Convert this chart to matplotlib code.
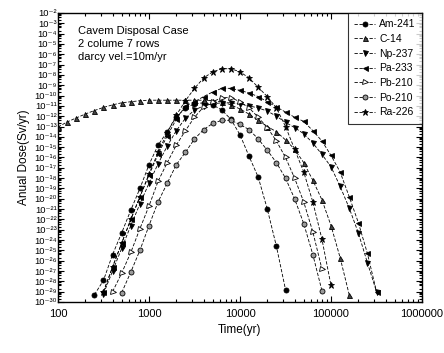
import numpy as np
import matplotlib
matplotlib.use("Agg")
import matplotlib.pyplot as plt
from matplotlib.ticker import LogLocator, FixedLocator, FixedFormatter, NullFormatter

plt.rcParams['font.family'] = ['Liberation Sans', 'DejaVu Sans']

# values, as log10(time in yr) and log10(dose in Sv/yr)
am241_logt = [2.4, 2.5, 2.6, 2.7, 2.8, 2.9, 3.0, 3.1, 3.2, 3.3, 3.4, 3.5, 3.6, 3.7,
              3.8, 3.9, 4.0, 4.1, 4.2, 4.3, 4.4, 4.5]
am241_logd = [-29.3, -27.9, -25.4, -23.3, -21.1, -19.0, -16.7, -14.8, -13.5, -12.1, -11.2,
              -10.8, -10.7, -10.9, -11.4, -12.3, -13.8, -15.9, -17.9, -21.0, -24.6, -28.8]

c14_logt = [2.0, 2.1, 2.2, 2.3, 2.4, 2.5, 2.6, 2.7, 2.8, 2.9, 3.0, 3.1, 3.2, 3.3, 3.4,
            3.5, 3.6, 3.7, 3.8, 3.9, 4.0, 4.1, 4.2, 4.3, 4.4, 4.5, 4.6, 4.7, 4.8, 4.9,
            5.0, 5.1, 5.2]
c14_logd = [-13.05, -12.56, -12.17, -11.79, -11.45, -11.15, -10.9, -10.7, -10.6, -10.5,
            -10.45, -10.45, -10.45, -10.45, -10.45, -10.45, -10.45, -10.5, -10.6, -10.9,
            -11.3, -11.8, -12.4, -13.0, -13.5, -14.3, -15.2, -16.5, -18.2, -20.1,
            -22.6, -25.7, -29.3]

np237_logt = [2.5, 2.6, 2.7, 2.8, 2.9, 3.0, 3.1, 3.2, 3.3, 3.4, 3.5, 3.6, 3.7, 3.8,
              3.9, 4.0, 4.1, 4.2, 4.3, 4.4, 4.5, 4.6, 4.7, 4.8, 4.9, 5.0, 5.1, 5.2,
              5.3, 5.4, 5.5]
np237_logd = [-29.2, -27.0, -24.8, -22.6, -20.5, -18.5, -16.6, -14.9, -13.4, -12.2,
              -11.4, -11.0, -10.8, -10.7, -10.7, -10.8, -11.0, -11.2, -11.5, -12.0,
              -12.6, -13.1, -13.7, -14.6, -15.7, -16.9, -18.8, -20.9, -23.3, -26.2, -29.0]

pa233_logt = [2.5, 2.6, 2.7, 2.8, 2.9, 3.0, 3.1, 3.2, 3.3, 3.4, 3.5, 3.6, 3.7, 3.8,
              3.9, 4.0, 4.1, 4.2, 4.3, 4.4, 4.5, 4.6, 4.7, 4.8, 4.9, 5.0, 5.1, 5.2,
              5.3, 5.4, 5.5]
pa233_logd = [-29.0, -26.6, -24.3, -22.0, -19.8, -17.7, -15.7, -13.9, -12.3, -11.0,
              -10.6, -10.1, -9.65, -9.3, -9.3, -9.5, -9.75, -10.1, -10.6, -11.1,
              -11.6, -12.1, -12.5, -13.4, -14.4, -15.8, -17.4, -19.8, -22.3, -25.3, -29.0]

pb210_logt = [2.6, 2.7, 2.8, 2.9, 3.0, 3.1, 3.2, 3.3, 3.4, 3.5, 3.6, 3.7, 3.8, 3.9,
              4.0, 4.1, 4.2, 4.3, 4.4, 4.5, 4.6, 4.7, 4.8, 4.9]
pb210_logd = [-29.0, -27.2, -25.2, -22.9, -20.7, -18.3, -16.5, -14.8, -13.4, -12.1,
              -11.1, -10.6, -10.2, -10.2, -10.6, -11.2, -12.1, -13.1, -14.4, -16.0,
              -18.0, -20.3, -23.2, -26.8]

po210_logt = [2.7, 2.8, 2.9, 3.0, 3.1, 3.2, 3.3, 3.4, 3.5, 3.6, 3.7, 3.8, 3.9, 4.0,
              4.1, 4.2, 4.3, 4.4, 4.5, 4.6, 4.7, 4.8, 4.9]
po210_logd = [-29.1, -27.1, -25.0, -22.6, -20.3, -18.5, -16.7, -15.5, -14.2, -13.3,
              -12.7, -12.4, -12.4, -12.8, -13.3, -14.2, -15.3, -16.5, -18.0, -20.0,
              -22.4, -25.4, -28.9]

ra226_logt = [2.5, 2.6, 2.7, 2.8, 2.9, 3.0, 3.1, 3.2, 3.3, 3.4, 3.5, 3.6, 3.7, 3.8,
              3.9, 4.0, 4.1, 4.2, 4.3, 4.4, 4.5, 4.6, 4.7, 4.8, 4.9, 5.0]
ra226_logd = [-29.0, -26.6, -24.3, -22.0, -19.8, -17.6, -15.5, -13.6, -11.9, -10.5,
              -9.3, -8.3, -7.7, -7.4, -7.4, -7.7, -8.3, -9.2, -10.1, -11.2,
              -13.0, -15.2, -17.4, -20.3, -23.9, -28.4]

series = [
    ('Am-241', am241_logt, am241_logd, 'o', 'black'),
    ('C-14', c14_logt, c14_logd, '^', '#444444'),
    ('Np-237', np237_logt, np237_logd, 'v', 'black'),
    ('Pa-233', pa233_logt, pa233_logd, '<', 'black'),
    ('Pb-210', pb210_logt, pb210_logd, '>', 'white'),
    ('Po-210', po210_logt, po210_logd, 'o', '#9a9a9a'),
    ('Ra-226', ra226_logt, ra226_logd, '*', 'black'),
]

fig = plt.figure(figsize=(4.44, 3.53), dpi=100)
ax = fig.add_axes([0.1306, 0.1445, 0.8199, 0.8187])

for name, lt, ld, mk, fc in series:
    ms = 5 if mk == '*' else 3.6
    ax.plot(10 ** np.array(lt), 10 ** np.array(ld), ls=(0, (4, 2)), lw=0.6, color='black',
            marker=mk, markersize=ms, markerfacecolor=fc, markeredgecolor='black',
            markeredgewidth=0.6, label=name)

ax.set_xscale('log')
ax.set_yscale('log')
ax.set_xlim(100, 1e6)
ax.set_ylim(1e-30, 1e-2)

# x ticks
ax.xaxis.set_major_locator(FixedLocator([1e2, 1e3, 1e4, 1e5, 1e6]))
ax.xaxis.set_major_formatter(FixedFormatter(['100', '1000', '10000', '100000', '1000000']))
ax.xaxis.set_minor_locator(LogLocator(base=10, subs=range(2, 10), numticks=20))
ax.xaxis.set_minor_formatter(NullFormatter())

# y ticks, one label per decade (unicode superscripts)
sup = str.maketrans('-0123456789', '⁻⁰¹²³⁴⁵⁶⁷⁸⁹')
y_exps = list(range(-30, -1))
ax.yaxis.set_major_locator(FixedLocator([10.0 ** e for e in y_exps]))
ax.yaxis.set_major_formatter(FixedFormatter(['10' + str(e).translate(sup) for e in y_exps]))
ax.yaxis.set_minor_locator(LogLocator(base=10, subs=(2, 4, 6, 8), numticks=40))
ax.yaxis.set_minor_formatter(NullFormatter())

ax.tick_params(which='both', direction='in', top=True, right=True, width=0.8)
ax.tick_params(which='major', length=4, pad=2)
ax.tick_params(which='minor', length=2)
ax.tick_params(axis='x', labelsize=8, pad=5)
ax.tick_params(axis='y', labelsize=6.8, pad=1)
for s in ax.spines.values():
    s.set_linewidth(1.0)

ax.set_xlabel('Time(yr)', fontsize=8.5, labelpad=4)
ax.set_ylabel('Anual Dose(Sv/yr)', fontsize=8.5, labelpad=3)

ax.text(0.055, 0.955, 'Cavem Disposal Case\n2 colume 7 rows\ndarcy vel.=10m/yr',
        transform=ax.transAxes, fontsize=8, va='top', ha='left', linespacing=1.35)

leg = ax.legend(loc='upper right', fontsize=7.5, frameon=True, fancybox=False,
                edgecolor='black', handlelength=2.0, handletextpad=0.4,
                borderaxespad=0.0, labelspacing=0.45, borderpad=0.6)
leg.get_frame().set_linewidth(0.8)

fig.savefig('out.png', dpi=100)
